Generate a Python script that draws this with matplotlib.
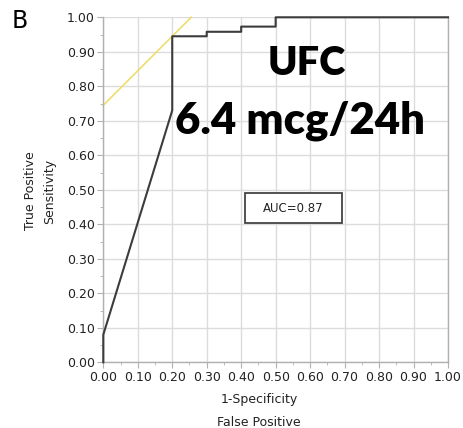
import matplotlib
matplotlib.use("Agg")
import matplotlib.pyplot as plt
from matplotlib.patches import Rectangle

# ROC curve data (1-Specificity, Sensitivity)
fpr = [0.0, 0.0, 0.20, 0.20, 0.30, 0.30, 0.40, 0.40, 0.50, 0.50, 1.00]
tpr = [0.0, 0.08, 0.73, 0.945, 0.945, 0.958, 0.958, 0.973, 0.973, 1.00, 1.00]
# tangent line (yellow)
tan_x = [0.0, 0.255]
tan_y = [0.745, 1.00]
auc_text = "AUC=0.87"
title_lines = ["UFC", "6.4 mcg/24h"]
ticks = [i / 10 for i in range(11)]
tick_labels = [f"{t:.2f}" for t in ticks]

fig = plt.figure(figsize=(4.63, 4.28), dpi=100)
ax = fig.add_axes([0.2231, 0.1535, 0.7445, 0.8061])
ax.set_xlim(0, 1)
ax.set_ylim(0, 1)

ax.set_xticks(ticks)
ax.set_xticklabels(tick_labels)
ax.set_yticks(ticks)
ax.set_yticklabels(tick_labels)
ax.set_xticks([t + 0.05 for t in ticks[:-1]], minor=True)
ax.set_yticks([t + 0.05 for t in ticks[:-1]], minor=True)
ax.grid(True, which="major", color="#dcdcdc", linewidth=1.0)
ax.set_axisbelow(True)
for s in ax.spines.values():
    s.set_color("#b0b0b0")
    s.set_linewidth(1.0)
ax.spines["top"].set_visible(False)
ax.tick_params(which="major", length=4, color="#b0b0b0", labelsize=9, pad=2, labelcolor="#222222")
ax.tick_params(which="minor", length=2.5, color="#b0b0b0")

ax.plot(tan_x, tan_y, color="#eede6a", linewidth=1.2, clip_on=False, zorder=2)
ax.plot(fpr, tpr, color="#3c3c3c", linewidth=1.5, clip_on=False, zorder=3)

# axis labels
fig.text(0.5594, 1 - 400 / 428, "1-Specificity", fontsize=9, ha="center", va="center", color="#222222")
fig.text(0.5594, 1 - 422 / 428, "False Positive", fontsize=9, ha="center", va="center", color="#222222")
fig.text(31 / 463, 1 - 191 / 428, "True Positive", fontsize=9, ha="center", va="center",
         rotation=90, color="#222222")
fig.text(50 / 463, 1 - 191 / 428, "Sensitivity", fontsize=9, ha="center", va="center",
         rotation=90, color="#222222")

ax.text(0.590, 0.833, title_lines[0], fontsize=28.5, fontweight="heavy", family="Lato",
        ha="center", va="baseline", transform=ax.transAxes, zorder=4)
ax.text(0.571, 0.664, title_lines[1], fontsize=31.5, fontweight="heavy", family="Lato",
        ha="center", va="baseline", transform=ax.transAxes, zorder=4)

ax.add_patch(Rectangle((0.411, 0.404), 0.2815, 0.087, transform=ax.transAxes,
                       facecolor="white", edgecolor="#444444", linewidth=1.3, zorder=4))
ax.text(0.552, 0.447, auc_text, fontsize=8.5, ha="center", va="center", transform=ax.transAxes,
        color="#222222", zorder=5)

fig.text(0.026, 0.935, "B", fontsize=17, ha="left", va="baseline")

fig.savefig("out.png", dpi=100)
